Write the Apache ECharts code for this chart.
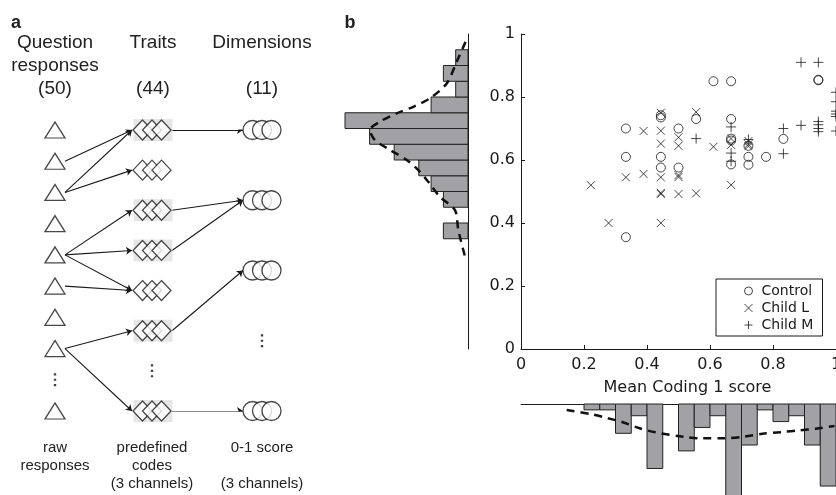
<!DOCTYPE html>
<html>
<head>
<meta charset="utf-8">
<script src="https://cdn.jsdelivr.net/npm/echarts@6/dist/echarts.min.js"></script>
<style>
html, body { margin: 0; padding: 0; background: #fff; }
#main { width: 836px; height: 495px; }
</style>
</head>
<body>
<div id="main"></div>
<script>
// panel b scatter: [mean coding 1 score, score]
var controlPts = [
  [0.333, 0.70], [0.333, 0.61], [0.333, 0.355],
  [0.444, 0.742], [0.444, 0.735], [0.444, 0.61], [0.444, 0.576],
  [0.5, 0.70], [0.5, 0.576],
  [0.556, 0.73],
  [0.611, 0.85],
  [0.667, 0.85], [0.667, 0.73], [0.667, 0.668], [0.667, 0.662], [0.667, 0.586],
  [0.722, 0.645], [0.722, 0.61], [0.722, 0.585],
  [0.778, 0.61],
  [0.833, 0.667],
  [0.944, 0.855], [0.944, 0.853]
];
var childLPts = [
  [0.222, 0.52], [0.278, 0.40], [0.333, 0.545], [0.389, 0.692], [0.389, 0.556],
  [0.444, 0.75], [0.444, 0.693], [0.444, 0.652], [0.444, 0.545], [0.444, 0.496], [0.444, 0.492], [0.444, 0.40],
  [0.5, 0.672], [0.5, 0.645], [0.5, 0.552], [0.5, 0.546], [0.5, 0.492],
  [0.556, 0.752], [0.556, 0.494],
  [0.611, 0.642],
  [0.667, 0.668], [0.667, 0.648], [0.667, 0.521],
  [0.722, 0.66], [0.722, 0.65], [0.722, 0.644]
];
var childMPts = [
  [0.556, 0.668],
  [0.667, 0.705], [0.667, 0.622], [0.667, 0.596],
  [0.722, 0.665],
  [0.833, 0.70], [0.833, 0.62],
  [0.889, 0.91], [0.889, 0.71],
  [0.944, 0.91], [0.944, 0.722], [0.944, 0.712], [0.944, 0.70], [0.944, 0.69],
  [1.0, 0.815], [1.0, 0.785], [1.0, 0.755], [1.0, 0.746], [1.0, 0.738], [1.0, 0.692]
];

// marginal histograms: lower bin edge and count, bins are 0.05 wide
var binWidth = 0.05;
var yBinEdges = [0.35, 0.40, 0.45, 0.50, 0.55, 0.60, 0.65, 0.70, 0.75, 0.80, 0.85, 0.90];
var yBinCounts = [2, 0, 2, 3, 4, 6, 8, 10, 3, 1, 2, 1];
var xBinEdges = [0.20, 0.25, 0.30, 0.35, 0.40, 0.45, 0.50, 0.55, 0.60, 0.65, 0.70, 0.75, 0.80, 0.85, 0.90, 0.95];
var xBinCounts = [1, 1, 5, 2, 11, 0, 8, 4, 2, 17, 7, 1, 3, 2, 7, 14];

// dashed fits
var yFit = [[0.2, 0.975], [0.92, 0.912], [1.73, 0.843], [3.09, 0.796], [4.45, 0.769], [5.8, 0.748],
  [7.15, 0.722], [7.97, 0.695], [7.56, 0.663], [6.34, 0.632], [4.98, 0.60], [4.04, 0.568],
  [3.23, 0.531], [2.28, 0.483], [1.06, 0.441], [0.79, 0.378], [0.24, 0.293]];
var xFit = [[0.145, 1.02], [0.22, 1.71], [0.273, 2.39], [0.321, 3.07], [0.374, 4.1], [0.427, 4.83],
  [0.522, 5.63], [0.575, 5.86], [0.644, 5.86], [0.708, 5.58], [0.766, 5.07], [0.83, 4.78],
  [0.883, 4.49], [0.936, 4.21], [0.995, 3.75]];

// panel a: slots per column (one slot per column is the "..." gap)
var triSlots = 10, triGap = 8;
var diaSlots = 8, diaGap = 6, diaShaded = [0, 2, 3, 5, 7];
var cirSlots = 5, cirGap = 3;
var triToDia = [[1, 0], [2, 0], [2, 1], [4, 2], [4, 3], [4, 4], [5, 4], [7, 5], [7, 7]];
var diaToCir = [[0, 0], [2, 1], [3, 1], [5, 2], [7, 4]];

var colX = [0, 97, 207];
var halfW = [10, 20, 19];
var barFill = '#a2a2a6';
var ink = '#1a1a1a';

function slotY(i, n) { return i / (n - 1); }
function nodes(col, n, gap) {
  var out = [];
  for (var i = 0; i < n; i++) if (i !== gap) out.push([colX[col], slotY(i, n)]);
  return out;
}

var triNodes = nodes(0, triSlots, triGap);
var diaNodes = nodes(1, diaSlots, diaGap);
var cirNodes = nodes(2, cirSlots, cirGap);
var shadeNodes = diaShaded.map(function (i) { return [colX[1], slotY(i, diaSlots)]; });
var gapNodes = [[colX[0], slotY(triGap, triSlots)], [colX[1], slotY(diaGap, diaSlots)], [colX[2], slotY(cirGap, cirSlots)]];

var arrows = [];
triToDia.forEach(function (e) {
  arrows.push({ coords: [[colX[0] + halfW[0], slotY(e[0], triSlots)], [colX[1] - halfW[1], slotY(e[1], diaSlots)]] });
});
diaToCir.forEach(function (e) {
  arrows.push({ coords: [[colX[1] + halfW[1], slotY(e[0], diaSlots)], [colX[2] - halfW[2], slotY(e[1], cirSlots)]] });
});

var yHist = yBinEdges.map(function (v, i) { return [v, yBinCounts[i]]; });
var xHist = xBinEdges.map(function (v, i) { return [v, xBinCounts[i]]; });

function rectFrom(a, b) {
  return {
    type: 'rect',
    shape: { x: Math.min(a[0], b[0]), y: Math.min(a[1], b[1]), width: Math.abs(a[0] - b[0]), height: Math.abs(a[1] - b[1]) },
    style: { fill: barFill, stroke: '#222', lineWidth: 1 }
  };
}
function sideBar(params, api) {
  var lo = api.value(0), n = api.value(1);
  if (!n) return null;
  return rectFrom(api.coord([0, lo]), api.coord([n, lo + binWidth]));
}
function downBar(params, api) {
  var lo = api.value(0), n = api.value(1);
  if (!n) return null;
  return rectFrom(api.coord([lo, 0]), api.coord([lo + binWidth, n]));
}

var hidden = { show: false };
var fontB = 'DejaVu Sans';
var fontA = 'Liberation Sans';

function txt(s, x, y, size, bold) {
  return {
    type: 'text', x: x, y: y, silent: true,
    style: { text: s, fill: '#222', font: (bold ? 'bold ' : '') + size + 'px "' + fontA + '"', align: 'center', verticalAlign: 'middle' }
  };
}

var myChart = echarts.init(document.getElementById('main'), null, { renderer: 'canvas' });
var option = {
  animation: false,
  backgroundColor: '#fff',
  textStyle: { fontFamily: fontB },
  grid: [
    { left: 521, top: 34, width: 315, height: 315, outerBoundsMode: 'none' },
    { left: 345, top: 34, width: 123, height: 315, outerBoundsMode: 'none' },
    { left: 521, top: 404, width: 315, height: 117.2, outerBoundsMode: 'none' },
    { left: 55, top: 130, width: 207, height: 281, outerBoundsMode: 'none' }
  ],
  xAxis: [
    {
      gridIndex: 0, type: 'value', min: 0, max: 1, interval: 0.2,
      name: 'Mean Coding 1 score', nameLocation: 'middle', nameGap: 31,
      nameTextStyle: { fontSize: 16, color: ink, fontFamily: fontB, padding: [0, 0, 0, 18] },
      axisLine: { lineStyle: { color: ink, width: 1 } },
      axisTick: { inside: true, length: 4, lineStyle: { color: ink } },
      axisLabel: { fontSize: 16, color: ink, margin: 8 },
      splitLine: hidden
    },
    { gridIndex: 1, type: 'value', min: 0, max: 10, inverse: true, show: false },
    {
      gridIndex: 2, type: 'value', min: 0, max: 1, position: 'top',
      axisLine: { onZero: false, lineStyle: { color: ink, width: 1 } },
      axisTick: hidden, axisLabel: hidden, splitLine: hidden
    },
    { gridIndex: 3, type: 'value', min: 0, max: 207, show: false }
  ],
  yAxis: [
    {
      gridIndex: 0, type: 'value', min: 0, max: 1, interval: 0.2,
      axisLine: { show: true, lineStyle: { color: ink, width: 1 } },
      axisTick: { show: true, inside: true, length: 4, lineStyle: { color: ink } },
      axisLabel: { fontSize: 16, color: ink, margin: 6 },
      splitLine: hidden
    },
    {
      gridIndex: 1, type: 'value', min: 0, max: 1, position: 'right',
      axisLine: { show: true, onZero: false, lineStyle: { color: ink, width: 1 } },
      axisTick: hidden, axisLabel: hidden, splitLine: hidden
    },
    { gridIndex: 2, type: 'value', min: 0, max: 20, inverse: true, show: false },
    { gridIndex: 3, type: 'value', min: 0, max: 1, inverse: true, show: false }
  ],
  legend: {
    left: 716, top: 279, orient: 'vertical',
    data: ['Control', 'Child L', 'Child M'],
    itemWidth: 8, itemHeight: 8, itemGap: 3,
    padding: [5, 6, 4, 26],
    borderColor: ink, borderWidth: 1,
    itemStyle: { borderWidth: 1 },
    textStyle: { fontSize: 14, color: ink, fontFamily: fontB, lineHeight: 14, width: 55, overflow: 'none', padding: [0, 0, 0, 4] }
  },
  graphic: [
    txt('a', 16, 23, 18, true),
    txt('Question', 55, 43, 19), txt('responses', 55, 66, 19), txt('(50)', 55, 89, 19),
    txt('Traits', 153, 43, 19), txt('(44)', 153, 89, 19),
    txt('Dimensions', 262, 43, 19), txt('(11)', 262, 89, 19),
    txt('raw', 55, 448, 15), txt('responses', 55, 466, 15),
    txt('predefined', 152, 448, 15), txt('codes', 152, 466, 15), txt('(3 channels)', 152, 484, 15),
    txt('0-1 score', 262, 448, 15), txt('(3 channels)', 262, 484, 15),
    txt('b', 350, 23, 18, true)
  ],
  series: [
    {
      type: 'scatter', name: 'Control', xAxisIndex: 0, yAxisIndex: 0, data: controlPts,
      symbol: 'circle', symbolSize: 9,
      itemStyle: { color: 'none', borderColor: ink, borderWidth: 1 }
    },
    {
      type: 'scatter', name: 'Child L', xAxisIndex: 0, yAxisIndex: 0, data: childLPts,
      symbol: 'path://M0,0L10,10M10,0L0,10', symbolSize: 8,
      itemStyle: { color: 'none', borderColor: ink, borderWidth: 1 }
    },
    {
      type: 'scatter', name: 'Child M', xAxisIndex: 0, yAxisIndex: 0, data: childMPts,
      symbol: 'path://M5,0L5,10M0,5L10,5', symbolSize: 10,
      itemStyle: { color: 'none', borderColor: ink, borderWidth: 1 }
    },
    { type: 'custom', xAxisIndex: 1, yAxisIndex: 1, renderItem: sideBar, data: yHist, encode: { x: 1, y: 0 } },
    {
      type: 'line', xAxisIndex: 1, yAxisIndex: 1, data: yFit, showSymbol: false, smooth: 0.3,
      lineStyle: { color: '#111', width: 2.5, type: [8, 6] }
    },
    { type: 'custom', xAxisIndex: 2, yAxisIndex: 2, renderItem: downBar, data: xHist, encode: { x: 0, y: 1 } },
    {
      type: 'line', xAxisIndex: 2, yAxisIndex: 2, data: xFit, showSymbol: false, smooth: 0.3,
      lineStyle: { color: '#111', width: 2.5, type: [8, 6] }
    },
    // panel a diagram
    {
      type: 'scatter', xAxisIndex: 3, yAxisIndex: 3, data: shadeNodes, symbol: 'rect', symbolSize: [39, 22],
      symbolOffset: [1, 0], itemStyle: { color: '#e0e0e0' }, silent: true
    },
    {
      type: 'lines', coordinateSystem: 'cartesian2d', xAxisIndex: 3, yAxisIndex: 3, data: arrows,
      symbol: ['none', 'arrow'], symbolSize: 6, lineStyle: { color: ink, width: 1.1, opacity: 1 }, silent: true
    },
    {
      type: 'scatter', xAxisIndex: 3, yAxisIndex: 3, data: triNodes, symbol: 'triangle', symbolSize: [20, 16],
      itemStyle: { color: '#fff', borderColor: ink, borderWidth: 1.3 }, silent: true
    },
    {
      type: 'scatter', xAxisIndex: 3, yAxisIndex: 3, data: diaNodes, symbol: 'diamond', symbolSize: [19, 20],
      symbolOffset: [-9.5, 0], itemStyle: { color: '#fff', borderColor: ink, borderWidth: 1.3 }, silent: true
    },
    {
      type: 'scatter', xAxisIndex: 3, yAxisIndex: 3, data: diaNodes, symbol: 'diamond', symbolSize: [19, 20],
      itemStyle: { color: '#fff', borderColor: ink, borderWidth: 1.3 }, silent: true
    },
    {
      type: 'scatter', xAxisIndex: 3, yAxisIndex: 3, data: diaNodes, symbol: 'diamond', symbolSize: [19, 20],
      symbolOffset: [9.5, 0], itemStyle: { color: '#fff', borderColor: ink, borderWidth: 1.3 }, silent: true
    },
    {
      type: 'scatter', xAxisIndex: 3, yAxisIndex: 3, data: cirNodes, symbol: 'circle', symbolSize: 19,
      symbolOffset: [-9.5, 0], itemStyle: { color: '#fff', borderColor: ink, borderWidth: 1.3 }, silent: true
    },
    {
      type: 'scatter', xAxisIndex: 3, yAxisIndex: 3, data: cirNodes, symbol: 'circle', symbolSize: 19,
      itemStyle: { color: '#fff', borderColor: ink, borderWidth: 1.3 }, silent: true
    },
    {
      type: 'scatter', xAxisIndex: 3, yAxisIndex: 3, data: cirNodes, symbol: 'circle', symbolSize: 19,
      symbolOffset: [9.5, 0], itemStyle: { color: '#fff', borderColor: ink, borderWidth: 1.3 }, silent: true
    },
    {
      type: 'scatter', xAxisIndex: 3, yAxisIndex: 3, data: gapNodes,
      symbol: 'path://M0,0h2v2h-2zM0,5h2v2h-2zM0,10h2v2h-2z', symbolSize: [2.4, 13],
      itemStyle: { color: '#111' }, silent: true
    }
  ]
};
myChart.setOption(option);
</script>
</body>
</html>
